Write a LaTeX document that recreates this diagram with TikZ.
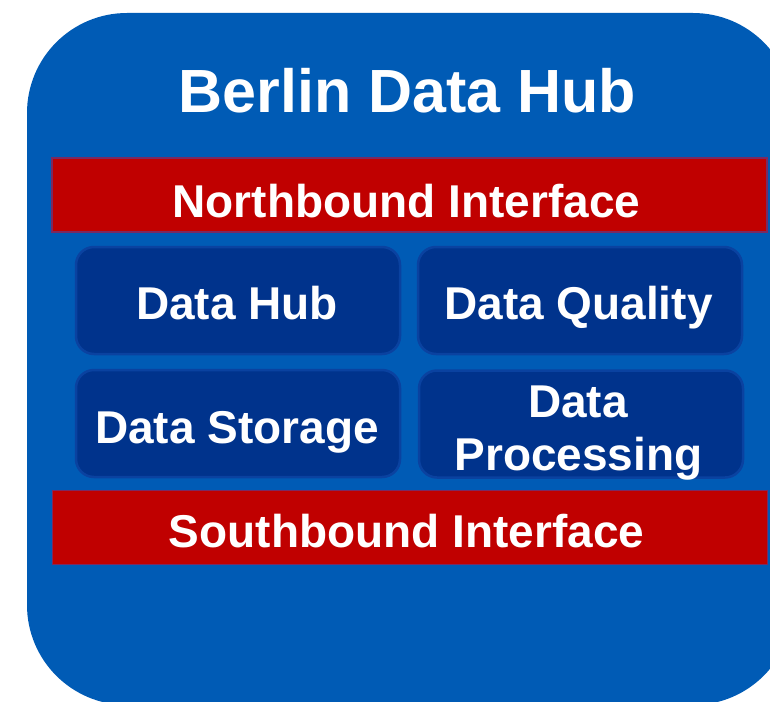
\documentclass[tikz,border=0pt]{standalone}
\usepackage{fontspec}
\setmainfont{Liberation Sans}
\definecolor{mainblue}{HTML}{005BB5}
\definecolor{navybox}{HTML}{00338C}
\definecolor{navyedge}{HTML}{0A42A0}
\definecolor{barred}{HTML}{C00000}
\definecolor{baredge}{HTML}{7A2A62}
\begin{document}
\begin{tikzpicture}[x=1pt,y=-1pt,
  bar/.style={rectangle, fill=barred, draw=baredge, line width=1.6pt, inner sep=0pt, minimum width=715pt, minimum height=74pt},
  module/.style={rectangle, rounded corners=18pt, fill=navybox, draw=navyedge, line width=2.5pt, inner sep=0pt, minimum width=324pt, minimum height=107pt},
  bigtitle/.style={anchor=base, text=white, inner sep=0pt, font=\bfseries\fontsize{61}{70}\selectfont},
  label/.style={anchor=base, text=white, inner sep=0pt, font=\bfseries\fontsize{46}{53}\selectfont}]
\useasboundingbox (0,0) rectangle (770,701);
\begin{scope}
  \clip (0,0) rectangle (770,701);
  \fill[mainblue, rounded corners=100pt] (27,13) rectangle (793,705);
\end{scope}
% bars
\node[bar] (north) at (409.5,195) {};
\node[bar] (south) at (410,527.5) {};
% modules
\node[module] (hub) at (238,300.5) {};
\node[module] (quality) at (580,300.5) {};
\node[module] (storage) at (238,423.5) {};
\node[module] (processing) at (581,424) {};
% texts
\node[bigtitle] (title) at (407.5,112) {Berlin Data Hub};
\node[label] (northtxt) at (406.5,217) {Northbound Interface};
\node[label] (southtxt) at (406.5,547) {Southbound Interface};
\node[label] (hubtxt) at (237,319) {Data Hub};
\node[label] (qualitytxt) at (578.5,319) {Data Quality};
\node[label] (storagetxt) at (237,443) {Data Storage};
\node[label] (proctxta) at (578,417) {Data};
\node[label] (proctxtb) at (578.5,470) {Processing};
\end{tikzpicture}
\end{document}
